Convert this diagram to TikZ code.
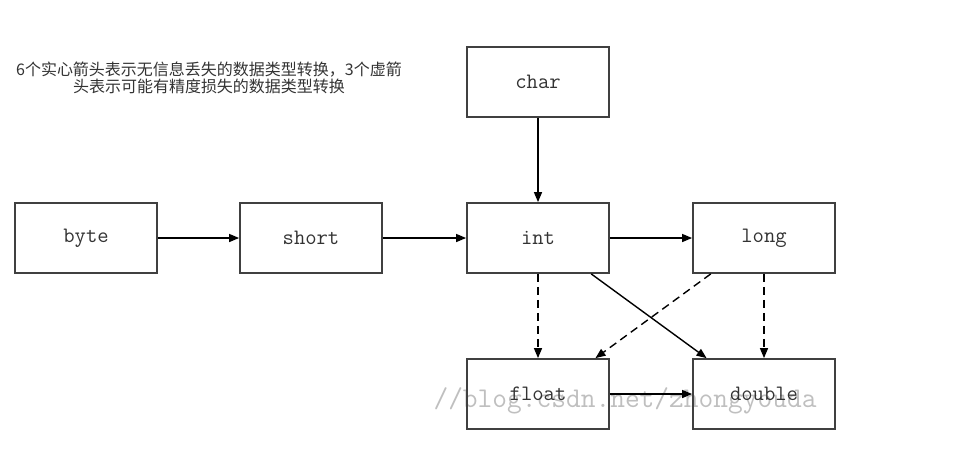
\documentclass[tikz,border=0pt]{standalone}
\usepackage{fontspec}
\newfontfamily\cjk{Noto Sans CJK SC}
\usetikzlibrary{arrows.meta}
\tikzset{
  typebox/.style={draw=black!75,line width=0.9pt,minimum width=71pt,minimum height=35pt,
    inner sep=0pt,text=black!80,font=\ttfamily\fontsize{11}{13}\selectfont},
  conv/.style={line width=0.7pt,-{Triangle[length=5pt,width=4pt]}},
  lossy/.style={conv,dash pattern=on 4pt off 2.5pt}
}

\begin{document}
\begin{tikzpicture}[x=0.5pt,y=-0.5pt]
   \useasboundingbox (0,0) rectangle (975,456);
   % watermark
   \node[text=black!25,font=\ttfamily\fontsize{14.3}{16}\selectfont] (mark) at (625,401) {//blog.csdn.net/zhongyouda};
   % note
   \node[align=center,text=black!80,font=\cjk\fontsize{8}{8.5}\selectfont] (note) at (209,78)
     {6个实心箭头表示无信息丢失的数据类型转换，3个虚箭\\头表示可能有精度损失的数据类型转换};
   % types
   \node[typebox] (byte) at (86,238) {byte};
   \node[typebox] (short) at (311,238) {short};
   \node[typebox] (int) at (538,238) {int};
   \node[typebox] (long) at (764,238) {long};
   \node[typebox] (char) at (538,82) {char};
   \node[typebox] (float) at (538,394) {float};
   \node[typebox] (double) at (764,394) {double};
   % conversions without loss
   \draw[conv] (byte) -- (short);
   \draw[conv] (short) -- (int);
   \draw[conv] (int) -- (long);
   \draw[conv] (char) -- (int);
   \draw[conv] (int.-34) -- (double.148);
   \draw[conv] (float) -- (double);
   % conversions with possible loss
   \draw[lossy] (int) -- (float);
   \draw[lossy] (long) -- (double);
   \draw[lossy] (long.214) -- (float.32);
\end{tikzpicture}
\end{document}
